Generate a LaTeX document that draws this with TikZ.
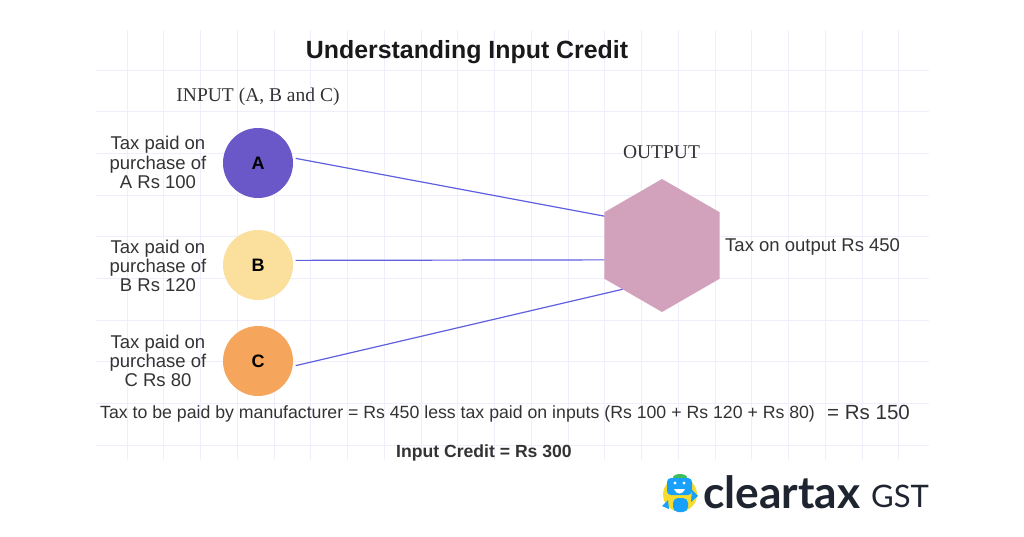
\documentclass[tikz,border=0pt]{standalone}
\usepackage{fontspec}
\setmainfont{Liberation Sans}
\newfontfamily\serifface{Liberation Serif}
\newfontfamily\logoface{Lato}
\usetikzlibrary{shapes.geometric}
\definecolor{gridc}{HTML}{EFEEFA}
\definecolor{txtc}{HTML}{333333}
\definecolor{linec}{HTML}{5F5FE0}
\definecolor{circa}{HTML}{6A58C8}
\definecolor{circb}{HTML}{FBDF9C}
\definecolor{circc}{HTML}{F5A55C}
\definecolor{hexc}{HTML}{D2A2BC}
\definecolor{logoc}{HTML}{1F2530}
\definecolor{robotb}{HTML}{18A0FB}
\definecolor{roboty}{HTML}{F7DC2E}
\definecolor{robotg}{HTML}{3DBE5A}
\tikzset{
  gridline/.style={draw=gridc,line width=1pt},
  inputcircle/.style={circle,minimum size=70pt,inner sep=0pt,outer sep=3pt,text=black,font=\fontsize{18}{20}\selectfont\bfseries},
  link/.style={draw=linec,line width=1.2pt},
  label/.style={text=txtc,align=center,inner sep=0pt,font=\fontsize{18.5}{19.2}\selectfont},
  serifhead/.style={text=txtc,inner sep=0pt,font=\fontsize{19.5}{21}\selectfont\serifface},
  note/.style={text=txtc,inner sep=0pt,font=\fontsize{17.7}{19}\selectfont},
}
\begin{document}
\begin{tikzpicture}[x=1pt,y=-1pt]
\useasboundingbox (0,0) rectangle (1024,536);
\fill[white] (0,0) rectangle (1024,536);
% grid
\foreach \k in {0,...,21} {
  \draw[gridline] ({127+36.75*\k},30) -- ({127+36.75*\k},460);
}
\foreach \k in {0,...,9} {
  \draw[gridline] (96,{70+41.7*\k}) -- (929,{70+41.7*\k});
}
% shapes
\node[inputcircle,fill=circa] (A) at (258,163) {A};
\node[inputcircle,fill=circb] (B) at (258,265) {B};
\node[inputcircle,fill=circc] (C) at (258,361) {C};
\node[regular polygon,regular polygon sides=6,shape border rotate=30,minimum size=133pt,inner sep=0pt,outer sep=0pt,fill=hexc] (hex) at (662,245.5) {};
\draw[link] (A.7.5) -- (hex.153);
\draw[link] (B.7.5) -- (hex.194);
\draw[link] (C.-7.5) -- (hex.228);
% text
\node[font=\fontsize{24.9}{27}\selectfont\bfseries,text=black!90,inner sep=0pt] (title) at (467,52) {Understanding Input Credit};
\node[serifhead] (inputhead) at (258,97) {INPUT (A, B and C)};
\node[serifhead] (outputhead) at (661.5,152.5) {OUTPUT};
\node[label] (la) at (158,162.5) {Tax paid on\\purchase of\\A Rs 100};
\node[label] (lb) at (158,266) {Tax paid on\\purchase of\\B Rs 120};
\node[label] (lc) at (158,361) {Tax paid on\\purchase of\\C Rs 80};
\node[label,anchor=west] (lo) at (725,247) {Tax on output Rs 450};
\node[note,anchor=west] (sum) at (100,414) {Tax to be paid by manufacturer = Rs 450 less tax paid on inputs (Rs 100 + Rs 120 + Rs 80)};
\node[text=txtc,inner sep=0pt,anchor=west,font=\fontsize{20.5}{22}\selectfont] (res) at (827,412) {= Rs 150};
\node[text=txtc,inner sep=0pt,font=\fontsize{17.6}{19}\selectfont\bfseries] (credit) at (484,453) {Input Credit = Rs 300};
% logo robot
\fill[roboty] (680,494.5) circle (17);
\fill[robotg] (680,477.5) ellipse (7 and 3.5);
\fill[robotb,rounded corners=4pt] (667,478) rectangle (692,495);
\fill[white] (675,483) circle (1.7) (684,483) circle (1.7);
\fill[white] (674,489) .. controls (676,495) and (683,495) .. (685,489) -- cycle;
\fill[robotb,rounded corners=5pt] (673,498) rectangle (688,512);
\fill[robotb] (662,506) -- (668,500) -- (669,509) -- cycle;
\fill[robotb] (698,496) -- (692,490) -- (691,502) -- cycle;
\node[anchor=base west,inner sep=0pt,text=logoc,font=\fontsize{44.3}{46}\selectfont\logoface\bfseries] (logo) at (703,508) {cleartax};
\node[anchor=base west,inner sep=0pt,text=logoc,font=\fontsize{31}{33}\selectfont\logoface] (gst) at (871,507) {GST};
\end{tikzpicture}
\end{document}
